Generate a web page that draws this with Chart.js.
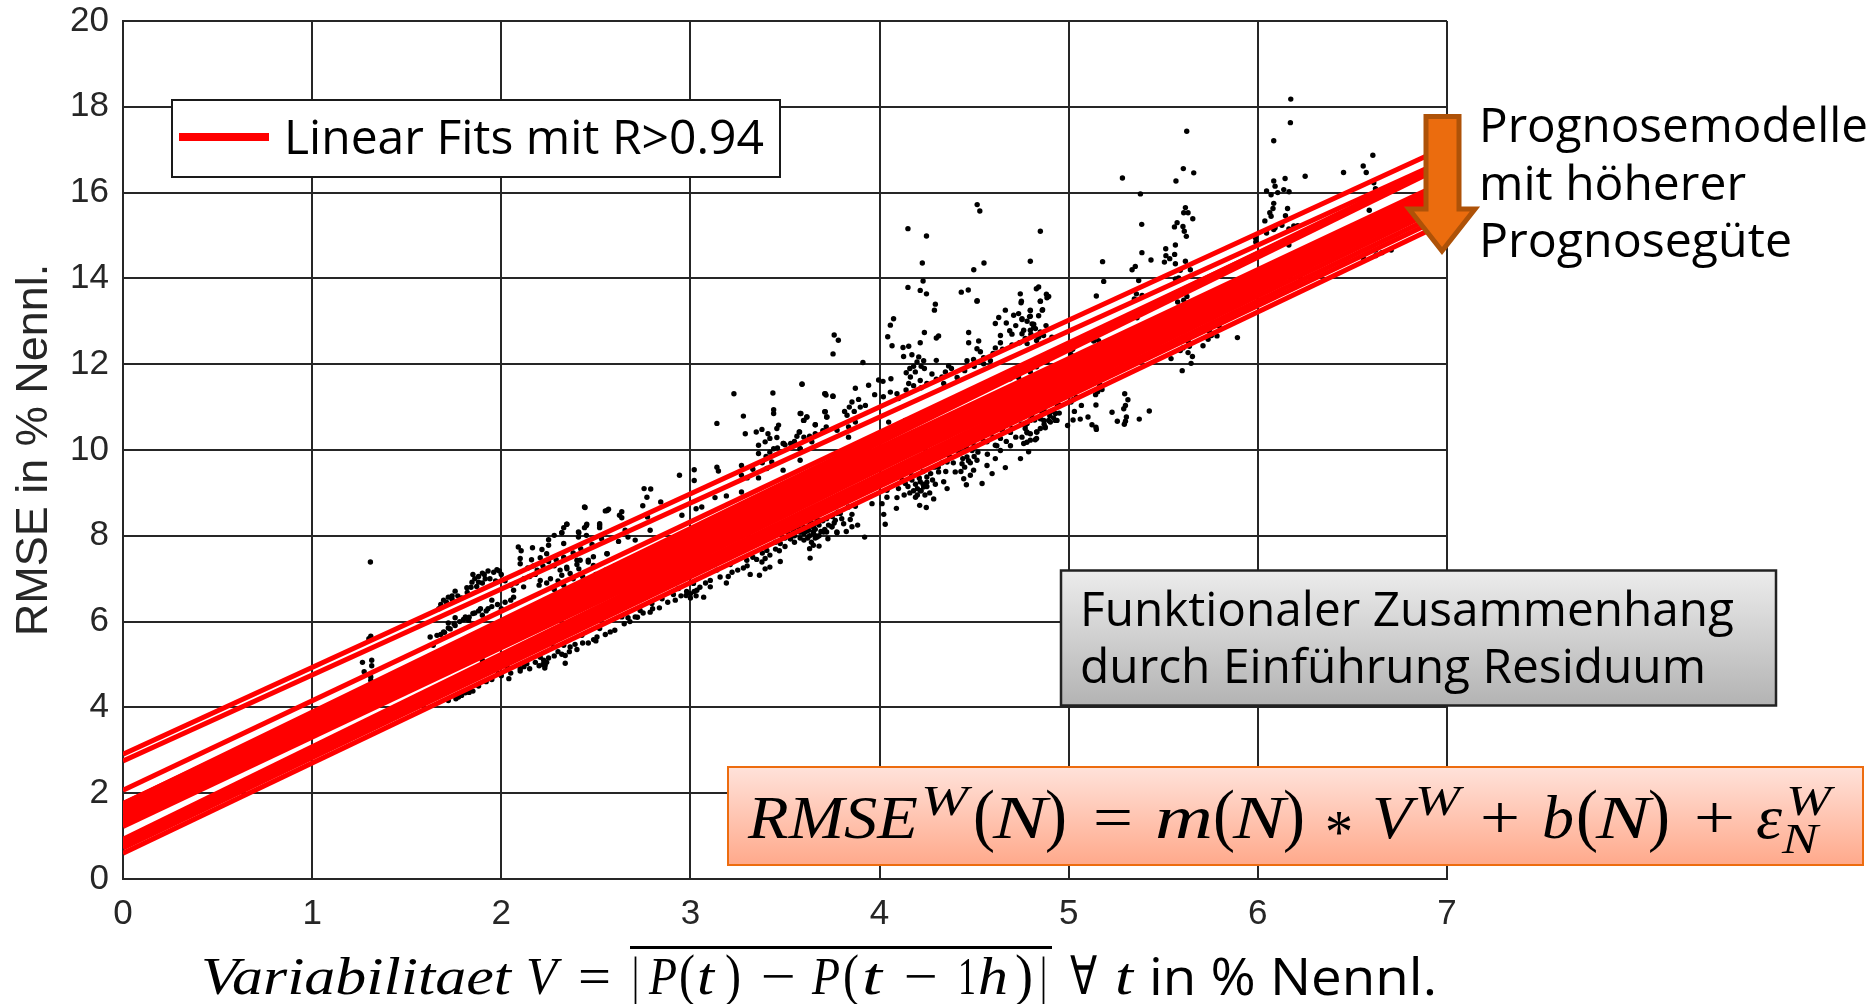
<!DOCTYPE html>
<html>
<head>
<meta charset="utf-8">
<style>
  html, body { margin: 0; padding: 0; background: #fff; overflow: hidden; }
  canvas { display: block; }
</style>
<script src="https://cdn.jsdelivr.net/npm/chart.js@4/dist/chart.umd.min.js"></script>
</head>
<body>
<canvas id="chart" width="1874" height="1004"></canvas>
<script>
const xTicks = [0, 1, 2, 3, 4, 5, 6, 7];
const yTicks = [0, 2, 4, 6, 8, 10, 12, 14, 16, 18, 20];

// linear fits, value at V=0 and value at V=6.9
const fitRange = [0, 6.9];
const fitStart = [2.91, 2.75, 2.07, 1.75, 1.70, 1.62, 1.52, 1.76, 1.71, 1.66, 1.60, 1.54, 1.44, 1.39, 1.34, 1.29, 1.225, 0.925, 0.88, 0.84, 0.78, 0.72, 0.60];
const fitEnd = [16.87, 16.58, 16.46, 16.52, 16.48, 16.47, 16.44, 16.07, 16.0, 15.95, 15.9, 15.85, 15.78, 15.75, 15.7, 15.65, 15.6, 15.8, 15.62, 15.5, 15.38, 15.26, 15.11];

// scatter from left to right
const scatterLeft = [
  [1.308,7.39],[2.44,8.67],[2.56,8.59],[2.625,8.48],[2.347,8.27],[2.45,8.24],[2.52,8.24],[2.32,8.07],[2.28,8.01],[2.41,8.07],
  [2.45,8.01],[2.25,7.91],[2.25,7.78],[2.09,7.74],[2.165,7.72],[2.105,7.65],[2.215,7.68],[2.24,7.58],[2.10,7.47],[2.16,7.44],
  [2.206,7.49],[2.29,7.44],[2.10,7.35],[2.40,7.43],[2.46,7.43],[2.56,7.58],[1.977,7.21],[1.93,7.18],[1.90,7.13],[1.85,7.10],
  [1.915,7.0],[1.845,6.92],[1.88,6.92],[1.818,6.79],[1.756,6.71],[1.72,6.57],[1.695,6.5],[2.065,6.73],[2.118,6.81],[2.206,6.96],
  [2.26,7.0],[2.347,7.23],[2.32,7.08],[2.41,7.23],[2.19,7.2],[2.065,6.57],[1.95,6.5],[1.89,6.3],[1.93,6.3],[1.85,6.19],
  [1.81,6.11],[1.756,6.09],[1.72,5.97],[1.756,5.91],[1.827,6.03],[1.624,5.64],[1.66,5.68],[1.695,5.76],[1.73,5.83],[1.64,5.45],
  [1.31,5.66],[1.30,5.6],[1.266,5.05],[1.315,5.1],[1.315,4.97],[1.275,4.83],[1.31,4.71],[1.31,4.63],[2.576,5.76],[2.52,5.84],
  [2.506,5.64],[2.488,5.58],[2.426,5.68],[2.39,5.47],[2.364,5.41],[2.33,5.45],[2.338,5.21],[2.32,5.24],[2.338,5.03],[2.232,4.98],
  [2.224,5.1],[2.206,5.17],[2.135,5.02],[2.10,4.9],[2.04,4.67],[1.985,4.79],[1.836,4.44],[1.81,4.34],[1.774,4.24],[1.72,4.16],
  [1.71,4.57],[2.276,5.41],[2.03,4.94],
  [1.67,6.3],[1.68,6.4],[1.71,6.45],[1.74,6.6],[1.77,6.6],[1.79,6.55],[1.74,6.52],[1.82,6.68],[1.84,6.8],[1.86,7.0],
  [1.88,7.05],[1.91,7.1],[1.94,7.0],[1.96,7.15],[1.99,7.18],[2.0,7.1],[1.87,6.82],[1.9,6.9],[1.97,6.95],[2.02,6.95],
  [2.05,6.85],[2.08,6.9],[2.12,7.0],[2.15,7.05],[2.18,7.1],[2.22,7.3],[2.25,7.4],[2.28,7.3],[2.33,7.5],[2.38,7.6],
  [2.42,7.7],[2.48,7.8],[2.14,7.25],[2.17,7.3],[2.2,6.85],[2.24,6.9],[2.3,6.95],[2.28,6.75],[2.33,6.85],[2.38,7.0],
  [2.43,7.05],[2.5,7.1],[2.55,7.2],[2.6,7.3],[1.76,4.2],[1.79,4.28],[1.83,4.35],[1.85,4.38],[1.88,4.5],[1.92,4.6],
  [1.95,4.65],[2.0,4.74],[2.05,4.8],[2.1,4.85],[2.12,4.95],[2.15,4.9],[2.18,5.05],[2.22,5.0],[2.25,5.15],[2.28,5.2],
  [2.3,5.3],[2.23,4.92],[2.24,5.05],[2.2,4.97],[2.36,5.3],[2.4,5.35],[2.43,5.5],[2.46,5.5],[2.5,5.55],[2.55,5.7],
  [2.6,5.8],[2.65,5.95],[2.68,6.0],[2.72,6.1],[2.75,6.2],[2.8,6.3],[2.88,6.45],[2.92,6.5],[2.95,6.6],[2.98,6.7],
  [3.02,6.7],[3.05,6.8],[3.08,6.9],[3.0,6.55],[3.03,6.6],
  [1.68,5.7],[1.7,5.75],[1.72,5.85],[1.75,5.95],[1.78,6.0],[1.8,6.05],[1.83,6.1],[1.86,6.2],[1.88,6.25],[1.9,6.15],
  [1.92,6.25],[1.95,6.35],[1.98,6.4],[2.0,6.3],[2.02,6.45],[2.05,6.5]
];
const scatterMidLeft = [
  [3.59,11.53],[3.23,11.31],[3.436,11.33],[3.71,11.31],[3.753,11.26],[3.44,10.94],[3.44,10.85],[3.58,10.85],[3.71,10.89],[3.72,10.77],
  [3.28,10.79],[3.615,10.77],[3.6,10.69],[3.14,10.62],[3.466,10.58],[3.457,10.5],[3.66,10.59],[3.718,10.54],[3.29,10.38],[3.348,10.42],
  [3.378,10.48],[3.41,10.38],[3.577,10.42],[3.42,10.27],[3.457,10.29],[3.395,10.19],[3.36,10.11],[3.49,10.15],[3.36,9.92],[3.44,10.03],
  [3.58,10.03],[2.942,9.41],[3.02,9.54],[3.02,9.29],[3.14,9.6],[3.148,9.51],[3.27,9.64],[3.27,9.41],[2.755,9.1],[2.79,9.09],
  [2.77,8.9],[2.843,8.79],[2.748,8.7],[2.567,8.62],[2.55,8.58],[2.443,8.66],[2.637,8.56],[2.637,8.42],[2.52,8.28],[2.52,8.19],
  [2.452,8.27],[2.346,8.27],[2.33,8.19],[2.44,8.19],[2.408,8.09],[2.408,7.97],[2.32,8.07],[2.33,7.82],[2.53,7.93],[2.62,7.87],
  [2.655,8.13],[2.67,7.97],[2.708,7.9],[2.773,8.44],[2.787,8.13],[2.955,8.48],[3.03,8.63],[3.06,8.67],[3.13,8.89],[3.19,8.93],
  [3.27,9.02],[3.36,9.35],[3.404,9.57],[3.43,9.72],[3.49,9.53],[3.58,9.76],[2.558,7.58],[2.487,7.51],[2.417,7.43],[2.46,7.39],
  [2.346,7.27],[2.311,7.2],[2.40,7.33],[2.364,7.12],[2.487,7.31],[3.774,8.52],[3.748,8.21],[3.774,8.09],[3.72,8.09],[3.67,8.36],
  [3.65,8.21],[3.625,8.13],[3.67,7.97],[3.6,7.9],[3.58,8.09],[3.545,8.13],[3.53,7.93],[3.68,7.76],[3.65,7.78],[3.63,7.7],
  [3.633,7.48],[3.475,7.82],[3.45,7.69],[3.404,7.66],[3.395,7.47],[3.475,7.4],[3.378,7.39],[3.42,7.27],[3.395,7.23],[3.316,7.1],
  [3.365,7.08],[3.298,7.43],[3.33,7.5],[3.21,7.33],[3.19,6.9],[3.157,7.04],[3.14,7.2],[3.105,6.96],[3.07,6.57],[3.105,6.81],
  [3.016,6.89],[3.034,6.73],[3.0,6.65],[2.977,6.61],[2.91,6.63],[2.937,6.77],[2.85,6.53],[2.836,6.32],[2.796,6.42],[2.787,6.22],
  [2.734,6.26],[2.708,6.11],[2.637,6.11],[2.67,6.09],[3.62,8.2],[3.64,8.3],[3.66,8.15],[3.68,8.25],[3.7,8.35],[3.6,8.05],
  [3.63,8.0],[3.66,7.95],[3.71,8.15],
  [3.45,7.85],[3.5,7.95],[3.52,8.05],[3.55,8.0],[3.57,8.2],[3.6,8.2],[3.61,8.1],[3.63,8.25],[3.65,8.1],[3.67,8.3],
  [3.69,8.1],[3.72,8.4],[3.73,8.25],[3.75,8.45],[3.76,8.3],[3.78,8.55],[3.8,8.4],[3.62,7.95],[3.64,7.85],[3.66,8.0],
  [3.68,8.0],[3.58,7.95],[3.55,7.85],[3.5,7.75],[3.47,7.65],[3.42,7.55],[3.38,7.6],[3.35,7.45],[3.3,7.3],[3.28,7.25],
  [3.25,7.2],[3.22,7.15],[3.2,7.05],[3.3,9.35],[3.33,9.55],[3.38,9.7],[3.4,9.85],[3.42,9.95],[3.46,10.05],[3.5,10.12],
  [3.53,10.15],[3.55,10.2],[3.6,10.3],[3.63,10.32],[3.66,10.38],[3.7,10.45]
];
const scatterMid = [
  [4.295,13.4],[4.29,13.26],[4.515,13.47],[4.748,13.43],[4.85,13.47],[4.074,13.06],[4.057,12.91],[4.665,13.26],[4.63,13.09],[4.709,13.14],
  [4.735,13.18],[4.753,13.04],[4.797,13.26],[4.797,13.12],[4.86,13.26],[4.612,12.95],[4.67,12.96],[4.815,12.93],[4.688,12.78],[4.762,12.79],
  [4.824,12.83],[3.76,12.68],[3.782,12.56],[3.754,12.24],[4.043,12.64],[4.237,12.74],[4.312,12.66],[4.3,12.61],[4.471,12.74],[4.639,12.67],
  [4.066,12.43],[4.124,12.39],[4.154,12.42],[4.215,12.5],[4.471,12.5],[4.524,12.54],[4.639,12.5],[4.78,12.48],[4.515,12.36],[4.533,12.29],
  [4.612,12.38],[4.171,12.22],[4.127,12.18],[4.207,12.17],[4.233,12.08],[4.30,12.09],[4.198,12.05],[3.912,12.04],[4.365,11.96],[4.462,12.08],
  [4.497,12.11],[4.55,12.01],[4.586,12.08],[4.237,11.9],[4.189,11.82],[4.141,11.8],[4.163,11.7],[4.277,11.77],[4.348,11.82],[4.41,11.69],
  [4.215,11.62],[4.154,11.55],[4.06,11.66],[3.995,11.63],[4.018,11.6],[3.59,11.54],[3.942,11.51],[3.872,11.44],[3.713,11.31],[3.717,11.28],
  [3.754,11.25],[3.889,11.18],[3.974,11.29],[4.02,11.24],[4.057,11.35],[4.092,11.31],[3.854,11.12],[3.925,11.04],[3.898,11.0],[3.84,11.0],
  [3.815,10.9],[3.866,10.9],[3.713,10.89],[3.722,10.77],[3.584,10.85],[3.616,10.77],[3.598,10.69],[3.828,10.81],[3.872,10.65],[3.66,10.59],
  [3.775,10.46],[3.836,10.54],[3.575,10.42],[3.563,10.32],[3.704,10.44],[3.642,10.19],[3.493,10.15],[3.58,10.03],[3.836,10.3],[4.048,10.65],
  [4.136,10.69],[4.339,11.55],[4.533,11.4],[4.69,11.66],[4.83,11.94],[4.885,12.05],[4.797,11.82],[4.735,11.69],[4.952,11.04],[4.938,10.69],
  [4.93,10.85],[4.875,10.89],[4.868,10.69],[4.903,10.65],[4.875,10.54],[4.78,10.62],[4.77,10.5],[4.797,10.38],[4.83,10.42],[4.83,10.27],
  [4.797,10.23],[4.762,10.15],[4.788,9.96],[4.745,9.8],[4.692,10.41],[4.639,10.27],[4.692,10.1],[4.612,10.11],[4.639,9.99],[4.568,10.19],
  [4.612,9.8],[4.665,9.59],[4.595,9.45],[4.568,9.64],[4.542,9.22],[4.515,9.76],[4.489,9.99],[4.462,9.84],[4.497,9.53],[4.48,9.41],
  [4.436,9.68],[4.445,9.33],[4.459,9.19],[4.4,9.49],[4.357,9.72],[4.339,9.26],[4.357,9.1],[4.295,9.2],[4.312,9.49],[4.25,9.37],
  [4.215,9.26],[4.233,9.14],[4.215,9.05],[4.265,9.0],[4.286,8.86],[4.212,8.71],[4.247,8.66],[4.171,9.3],[4.136,9.22],[4.092,8.89],
  [4.089,8.64],[4.039,9.06],[4.039,8.9],[4.013,8.75],[3.96,8.75],[4.022,8.5],[4.03,8.27],[3.872,8.69],[3.836,8.67],[3.854,8.5],
  [3.792,8.52],[3.766,8.36],[3.845,8.38],[3.81,8.28],[3.748,8.21],[3.884,8.25],[3.854,8.21],[3.824,8.1],[3.775,8.07],[3.921,7.97],
  [3.727,7.93],[3.704,8.09],[3.651,8.05],[3.616,8.13],[3.687,8.36],[3.651,8.21],[3.58,8.09],[3.528,7.93],[4.45,9.6],[4.47,9.75],
  [4.43,9.5],[4.5,9.85],[4.2,9.1],[4.23,9.2],[4.18,9.05],[4.25,9.15],[4.2,8.95],
  [4.1,9.1],[4.12,9.3],[4.15,9.15],[4.17,9.4],[4.19,9.2],[4.21,9.35],[4.23,9.5],[4.25,9.25],[4.27,9.45],[4.29,9.6],
  [4.22,9.05],[4.24,8.95],[4.19,8.9],[4.16,9.0],[4.13,8.95],[4.28,9.3],[4.31,9.6],[4.33,9.7],[4.35,9.5],[4.37,9.85],
  [4.39,9.7],[4.42,9.95],[4.44,9.8],[4.46,10.05],[4.48,9.7],[4.5,10.1],[4.52,9.95],[4.55,10.2],[4.57,9.9],[4.6,10.3],
  [4.62,10.1],[4.65,10.45],[4.67,10.2],[4.7,10.5],[4.72,10.3],[4.75,10.6],[4.78,10.4],[4.82,10.7],[4.85,10.5],[4.9,10.8],
  [4.87,10.6],[4.92,10.75],[4.45,11.85],[4.5,11.95],[4.55,12.15],[4.6,12.25],[4.65,12.35],[4.7,12.45],[4.74,12.5],[4.77,12.6],
  [4.8,12.7],[4.83,12.55],[4.85,12.75],[4.88,12.9],[4.7,12.7],[4.72,12.9],[4.78,13.0],[4.1,11.2],[4.14,11.4],[4.18,11.5],
  [4.22,11.45],[4.25,11.55],[4.3,11.65],[4.33,11.7],[4.38,11.9],[4.18,11.95],[4.22,11.95],[4.16,11.9],
  [4.516,15.72],[4.53,15.57],[4.15,15.16],[4.248,14.99],[4.226,14.36],[4.552,14.36],[4.498,14.2],[4.23,13.94],[4.15,13.79],[4.215,13.72],
  [4.248,13.64],[4.469,13.73],[4.432,13.68],[4.516,13.48]
];
const scatterMidRight = [
  [5.379,15.97],[5.617,15.65],[5.608,15.53],[5.631,15.53],[5.656,15.39],[5.573,15.3],[5.559,15.2],[5.604,15.21],[5.611,15.1],[5.622,14.98],
  [4.85,15.1],[5.386,15.26],[5.564,14.78],[5.513,14.69],[5.387,14.6],[5.56,14.56],[5.514,14.53],[5.534,14.46],[5.435,14.43],[4.797,14.4],
  [5.179,14.39],[5.506,14.38],[5.564,14.34],[5.617,14.4],[5.352,14.28],[5.335,14.2],[5.59,14.19],[5.643,14.2],[5.37,13.95],[5.185,13.93],
  [5.564,13.99],[5.581,14.01],[4.841,13.8],[4.829,13.76],[4.882,13.63],[4.894,13.58],[4.885,13.55],[4.744,13.64],[4.75,13.47],[4.85,13.47],
  [5.146,13.59],[5.358,13.64],[5.388,13.6],[5.347,13.52],[5.625,13.58],[5.576,13.45],[5.608,13.49],[5.428,13.28],[4.862,13.27],[4.797,13.25],
  [4.841,13.13],[4.793,13.11],[4.753,13.06],[5.361,13.08],[4.806,12.94],[4.815,12.86],[4.797,12.79],[4.867,12.67],[4.841,12.63],[4.911,12.63],
  [4.753,12.71],[5.795,12.89],[5.745,12.76],[5.784,12.66],[5.754,12.67],[5.737,12.58],[5.892,12.62],[5.71,12.43],[5.634,12.51],[5.638,12.42],
  [5.604,12.38],[5.59,12.32],[5.631,12.27],[5.654,12.18],[5.541,12.13],[5.647,12.02],[5.6,11.85],[5.132,12.54],[5.158,12.55],[5.021,12.35],
  [5.012,12.23],[5.164,11.52],[5.176,11.41],[5.153,11.36],[5.142,11.29],[5.04,11.23],[5.023,11.17],[5.012,11.12],[5.067,11.04],[5.144,11.05],
  [5.296,11.31],[5.313,11.17],[5.3,11.04],[5.291,10.96],[5.229,10.88],[5.426,10.91],[5.03,10.9],[4.95,10.86],[4.908,10.9],[4.941,11.04],
  [4.929,10.69],[5.023,10.7],[5.061,10.72],[5.102,10.77],[5.305,10.77],[5.3,10.67],[5.294,10.6],[5.257,10.67],[5.373,10.72],[4.994,10.57],
  [5.123,10.59],[5.144,10.53],[5.146,10.48],[4.876,10.52],[4.832,10.42],[4.894,10.69],[4.85,10.73],[4.859,10.88],[4.806,10.77],[4.77,10.57],
  [4.779,10.42],[4.753,10.3],[4.823,10.24],[4.779,10.18],[4.797,10.69],
  [5.284,16.34],[5.624,17.43],[5.606,16.56],[5.661,16.46],[5.567,16.27]
];
const scatterRight = [
  [6.174,18.18],[6.172,17.63],[6.084,17.21],[6.608,16.87],[6.557,16.62],[6.573,16.47],[6.453,16.47],[6.25,16.38],[6.144,16.33],[6.084,16.27],
  [6.613,16.23],[6.091,16.15],[6.046,16.04],[6.07,15.95],[6.105,16.0],[6.137,16.07],[6.165,16.02],[6.622,16.09],[6.645,15.92],[6.626,15.87],
  [6.6,15.84],[6.084,15.75],[6.08,15.63],[6.157,15.63],[6.063,15.53],[6.07,15.45],[6.589,15.59],[6.146,15.46],[6.037,15.34],[6.127,15.24],
  [6.091,15.18],[6.084,15.14],[6.046,15.06],[6.164,15.15],[6.19,15.22],[6.211,15.23],[5.987,14.95],[5.989,14.85],[6.164,14.78],[6.705,14.66],
  [6.656,14.6],[6.622,14.53],[6.557,14.48],[6.622,14.66]
];
// dots that show only through the small gaps between the fits
const scatterInBand = [
  [1.9,5.1],[2.0,5.5],[2.1,5.75],[2.2,5.9],[2.3,6.1],[2.4,6.3],[2.5,6.6],[2.6,6.75],[2.7,6.9],[2.8,7.2],
  [2.9,7.35],[3.0,7.75],[3.1,7.85],[3.2,8.1],[3.3,8.25],[3.4,8.5],[3.5,8.7],[3.6,8.95],[3.7,9.1],[3.8,9.35],
  [3.9,9.55],[4.0,9.8],[4.1,9.98],[4.2,10.2],[4.3,10.45],[4.4,10.6],[4.5,10.9],[4.6,11.05],[4.7,11.3],[4.8,11.45]
];

const scatterData = [...scatterLeft, ...scatterMidLeft, ...scatterMid, ...scatterMidRight, ...scatterRight, ...scatterInBand]
  .map(p => ({ x: p[0], y: p[1] }));

const fitDatasets = fitStart.map((v, i) => ({
  type: "scatter",
  data: [{ x: fitRange[0], y: v }, { x: fitRange[1], y: fitEnd[i] }],
  showLine: true,
  borderColor: "#ff0000",
  borderWidth: 5,
  pointRadius: 0,
  order: 1,
}));

const SANS = '"Open Sans"';
const MATH = '"Liberation Serif"';

// draw a string between x0 and x1, squeezed to the width it has in the picture
function putText(ctx, str, x0, x1, base, font) {
  ctx.save();
  ctx.font = font;
  ctx.fillStyle = "#000";
  ctx.textBaseline = "alphabetic";
  ctx.textAlign = "left";
  const w = ctx.measureText(str).width;
  ctx.translate(x0, base);
  ctx.scale((x1 - x0) / w, 1);
  ctx.fillText(str, 0, 0);
  ctx.restore();
}

function gradientBox(ctx, x0, y0, x1, y1, from, to, border, lw) {
  const g = ctx.createLinearGradient(0, y0, 0, y1);
  g.addColorStop(0, from);
  g.addColorStop(1, to);
  ctx.fillStyle = g;
  ctx.fillRect(x0, y0, x1 - x0, y1 - y0);
  ctx.strokeStyle = border;
  ctx.lineWidth = lw;
  ctx.strokeRect(x0, y0, x1 - x0, y1 - y0);
}

const annotations = {
  id: "annotations",
  afterDraw(chart) {
    const ctx = chart.ctx;
    ctx.save();

    // legend
    gradientBox(ctx, 172, 100, 780, 177, "#fff", "#fff", "#1a1a1a", 2);
    ctx.fillStyle = "#ff0000";
    ctx.fillRect(179, 133, 90, 8);
    putText(ctx, "Linear Fits mit R>0.94", 284, 764, 154, `500 47px ${SANS}`);

    // arrow
    ctx.beginPath();
    ctx.moveTo(1426, 116.5);
    ctx.lineTo(1459, 116.5);
    ctx.lineTo(1459, 209);
    ctx.lineTo(1475, 209);
    ctx.lineTo(1442, 251);
    ctx.lineTo(1409, 209);
    ctx.lineTo(1426, 209);
    ctx.closePath();
    ctx.fillStyle = "#eb6c0e";
    ctx.fill();
    ctx.strokeStyle = "#ae5208";
    ctx.lineWidth = 5;
    ctx.stroke();

    putText(ctx, "Prognosemodelle", 1479, 1868, 142, `500 47px ${SANS}`);
    putText(ctx, "mit höherer", 1479, 1746, 200, `500 47px ${SANS}`);
    putText(ctx, "Prognosegüte", 1479, 1792, 257, `500 47px ${SANS}`);

    // grey box
    gradientBox(ctx, 1061, 570.5, 1776, 705.5, "#ececec", "#b3b3b3", "#222", 2.5);
    putText(ctx, "Funktionaler Zusammenhang", 1080, 1734, 626, `500 48px ${SANS}`);
    putText(ctx, "durch Einführung Residuum", 1080, 1706, 683, `500 48px ${SANS}`);

    // formula box
    gradientBox(ctx, 728, 767, 1863, 865, "#ffe2da", "#ffa98b", "#ed6c0f", 2);
    const big = `italic 62px ${MATH}`;
    const up = `62px ${MATH}`;
    const par = `70px ${MATH}`;
    const small = `italic 42px ${MATH}`;
    putText(ctx, "RMSE", 748, 918, 838, big);
    putText(ctx, "W", 921, 968, 815, small);
    putText(ctx, "(", 973, 995, 838, par);
    putText(ctx, "N", 993, 1047, 838, big);
    putText(ctx, ")", 1045, 1067, 838, par);
    putText(ctx, "=", 1093, 1133, 838, up);
    putText(ctx, "m", 1155, 1213, 838, big);
    putText(ctx, "(", 1213, 1235, 838, par);
    putText(ctx, "N", 1233, 1285, 838, big);
    putText(ctx, ")", 1283, 1305, 838, par);
    putText(ctx, "*", 1325, 1353, 852, up);
    putText(ctx, "V", 1372, 1412, 838, big);
    putText(ctx, "W", 1415, 1460, 815, small);
    putText(ctx, "+", 1480, 1520, 838, up);
    putText(ctx, "b", 1542, 1574, 838, big);
    putText(ctx, "(", 1576, 1598, 838, par);
    putText(ctx, "N", 1596, 1650, 838, big);
    putText(ctx, ")", 1648, 1670, 838, par);
    putText(ctx, "+", 1694, 1735, 838, up);
    putText(ctx, "ε", 1756, 1782, 838, big);
    putText(ctx, "W", 1786, 1831, 815, small);
    putText(ctx, "N", 1782, 1818, 853, small);

    // x axis title
    const ax = `italic 53px ${MATH}`;
    const ar = `53px ${MATH}`;
    const ap = `56px ${MATH}`;
    putText(ctx, "Variabilitaet", 201, 511, 994, ax);
    putText(ctx, "V", 526, 557, 994, ax);
    putText(ctx, "=", 578, 611, 994, ar);
    putText(ctx, "|", 632, 639, 994, ar);
    putText(ctx, "P", 649, 677, 994, ax);
    putText(ctx, "(", 679, 695, 994, ap);
    putText(ctx, "t", 697, 714, 994, ax);
    putText(ctx, ")", 725, 741, 994, ap);
    putText(ctx, "−", 761, 796, 994, ar);
    putText(ctx, "P", 812, 840, 994, ax);
    putText(ctx, "(", 843, 859, 994, ap);
    putText(ctx, "t", 862, 882, 994, ax);
    putText(ctx, "−", 904, 938, 994, ar);
    putText(ctx, "1", 958, 976, 994, ar);
    putText(ctx, "h", 978, 1008, 994, ax);
    putText(ctx, ")", 1015, 1033, 994, ap);
    putText(ctx, "|", 1040, 1047, 994, ar);
    putText(ctx, "∀", 1070, 1097, 994, ar);
    putText(ctx, "t", 1115, 1133, 994, ax);
    putText(ctx, "in % Nennl.", 1149, 1437, 995, `500 52px ${SANS}`);
    ctx.fillStyle = "#000";
    ctx.fillRect(630, 946, 422, 3);

    ctx.restore();
  },
};

new Chart(document.getElementById("chart").getContext("2d"), {
  type: "scatter",
  data: {
    datasets: [
      ...fitDatasets,
      {
        data: scatterData,
        backgroundColor: "#000",
        borderWidth: 0,
        pointRadius: 2.7,
        order: 2,
      },
    ],
  },
  options: {
    responsive: false,
    animation: false,
    devicePixelRatio: 1,
    layout: { padding: { top: 21, right: 427, left: 0, bottom: 0 } },
    plugins: { legend: { display: false }, tooltip: { enabled: false } },
    scales: {
      x: {
        type: "linear",
        min: 0,
        max: 7,
        afterBuildTicks: s => { s.ticks = xTicks.map(v => ({ value: v })); },
        afterFit: s => { s.height = 125; s.paddingLeft = 0; s.paddingRight = 0; },
        grid: { color: "#262626", lineWidth: 2, drawTicks: false },
        border: { color: "#262626", width: 2 },
        ticks: { color: "#262626", font: { family: "Liberation Sans", size: 35 }, padding: 14, maxRotation: 0 },
      },
      y: {
        type: "linear",
        min: 0,
        max: 20,
        afterBuildTicks: s => { s.ticks = yTicks.map(v => ({ value: v })); },
        afterFit: s => { s.width = 123; s.paddingTop = 0; s.paddingBottom = 0; },
        grid: { color: "#262626", lineWidth: 2, drawTicks: false },
        border: { color: "#262626", width: 2 },
        ticks: { color: "#262626", font: { family: "Liberation Sans", size: 35 }, padding: 14 },
        title: {
          display: true,
          text: "RMSE in % Nennl.",
          color: "#262626",
          font: { family: "Liberation Sans", size: 45 },
          padding: { top: 8, bottom: 0 },
        },
      },
    },
  },
  plugins: [annotations],
});
</script>
</body>
</html>
